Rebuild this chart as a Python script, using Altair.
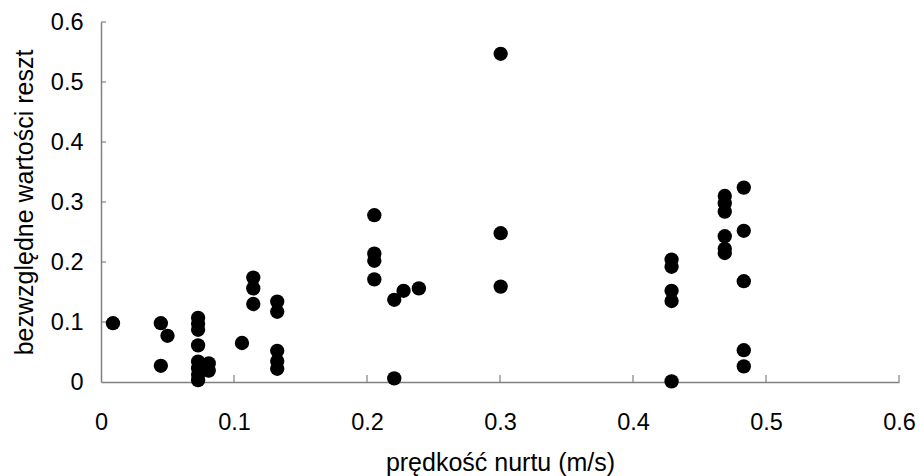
import altair as alt
import pandas as pd

# Flow velocity (m/s) and absolute residual values for each observation
velocity = [
    0.009, 0.045, 0.050, 0.045,
    0.073, 0.073, 0.073, 0.073, 0.073, 0.073, 0.073, 0.073,
    0.081, 0.081,
    0.106,
    0.1145, 0.1145, 0.1145,
    0.1325, 0.1325, 0.1325, 0.1325, 0.1325,
    0.2055, 0.2055, 0.2055, 0.2055,
    0.2205, 0.2275, 0.239, 0.2205,
    0.3005, 0.3005, 0.3005,
    0.429, 0.429, 0.429, 0.429, 0.429,
    0.469, 0.469, 0.469, 0.469, 0.469, 0.469,
    0.4833, 0.4833, 0.4833, 0.4833, 0.4833,
]
abs_residual = [
    0.098, 0.098, 0.077, 0.027,
    0.107, 0.097, 0.087, 0.061, 0.034, 0.023, 0.012, 0.003,
    0.031, 0.019,
    0.065,
    0.174, 0.156, 0.130,
    0.134, 0.117, 0.052, 0.035, 0.022,
    0.278, 0.214, 0.202, 0.171,
    0.137, 0.152, 0.156, 0.006,
    0.547, 0.248, 0.159,
    0.204, 0.192, 0.152, 0.135, 0.001,
    0.310, 0.298, 0.284, 0.243, 0.222, 0.215,
    0.324, 0.252, 0.168, 0.053, 0.026,
]
tick_values = [0.1, 0.2, 0.3, 0.4, 0.5, 0.6]
axis_values = [0, 0.1, 0.2, 0.3, 0.4, 0.5, 0.6]

W, H = 798, 360
AXIS_GREY = "#808080"
FONT = "Liberation Sans"

points = pd.DataFrame({"v": velocity, "r": abs_residual})
ticks = pd.DataFrame({"t": tick_values})

x_scale = alt.Scale(domain=[0, 0.6], nice=False, zero=True)
y_scale = alt.Scale(domain=[0, 0.6], nice=False, zero=True)

scatter = alt.Chart(points).mark_circle(
    size=205, color="black", opacity=1
).encode(
    x=alt.X(
        "v:Q",
        scale=x_scale,
        title="prędkość nurtu (m/s)",
        axis=alt.Axis(
            values=axis_values,
            format="~g",
            grid=False,
            ticks=False,
            domainColor=AXIS_GREY,
            domainWidth=1.5,
            labelFontSize=23.5,
            labelFont=FONT,
            labelColor="black",
            labelPadding=28,
            labelFlush=False,
            titleFontSize=25,
            titleFont=FONT,
            titleFontWeight="normal",
            titleColor="black",
            titleY=88,
            titleBaseline="alphabetic",
        ),
    ),
    y=alt.Y(
        "r:Q",
        scale=y_scale,
        title="bezwzględne wartości reszt",
        axis=alt.Axis(
            values=axis_values,
            format="~g",
            grid=False,
            ticks=False,
            domainColor=AXIS_GREY,
            domainWidth=1.5,
            labelFontSize=23.5,
            labelFont=FONT,
            labelColor="black",
            labelPadding=18,
            labelFlush=False,
            titleFontSize=25,
            titleFont=FONT,
            titleFontWeight="normal",
            titleColor="black",
            titleX=-69,
            titleAngle=-90,
            titleBaseline="alphabetic",
        ),
    ),
)

# Inward-pointing tick marks on both axes
x_ticks = alt.Chart(ticks).mark_rule(color=AXIS_GREY, strokeWidth=1.2).encode(
    x=alt.X("t:Q", scale=x_scale),
    y=alt.value(H),
    y2=alt.value(H - 7),
)
y_ticks = alt.Chart(ticks).mark_rule(color=AXIS_GREY, strokeWidth=1.2).encode(
    y=alt.Y("t:Q", scale=y_scale),
    x=alt.value(0),
    x2=alt.value(5),
)

chart = alt.layer(x_ticks, y_ticks, scatter).properties(
    width=W,
    height=H,
    autosize=alt.AutoSizeParams(type="none"),
    padding={"left": 101, "top": 22, "right": 20, "bottom": 94},
    background="white",
).configure_view(stroke=None)

chart.save("out.html", embed_options={"renderer": "svg", "actions": False})
